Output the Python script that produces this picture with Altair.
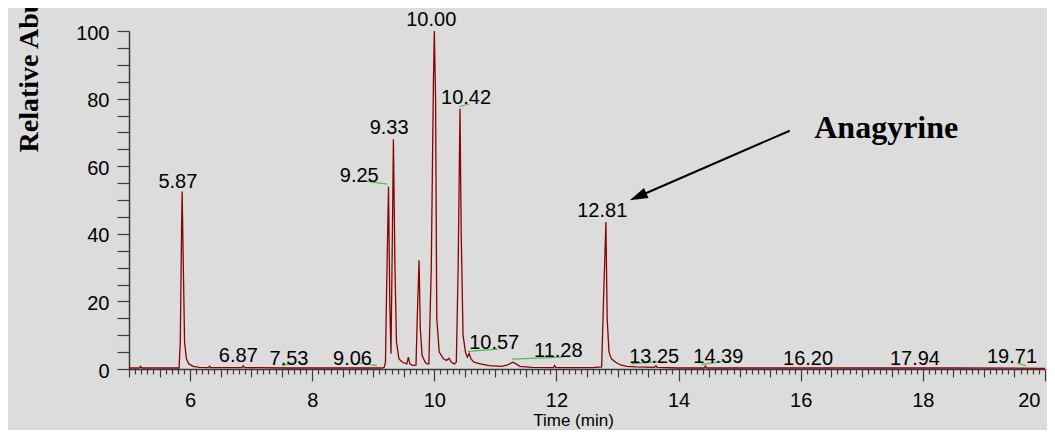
import altair as alt
import pandas as pd

# ---- chromatogram trace (time in min, relative abundance) ----
time = [5.00, 5.17, 5.19, 5.21, 5.82, 5.84, 5.86, 5.87, 5.89, 5.91, 5.94, 5.98, 6.05, 6.15,
        6.30, 6.32, 6.34, 6.85, 6.87, 6.89, 7.60, 8.40, 9.15, 9.18, 9.20, 9.22, 9.25, 9.27,
        9.29, 9.31, 9.33, 9.355, 9.38, 9.42, 9.48, 9.55, 9.575, 9.60, 9.65, 9.70, 9.72, 9.75,
        9.77, 9.80, 9.85, 9.88, 9.91, 9.95, 9.985, 10.00, 10.02, 10.04, 10.08, 10.15, 10.20,
        10.24, 10.28, 10.33, 10.36, 10.39, 10.42, 10.44, 10.47, 10.51, 10.54, 10.57, 10.60,
        10.65, 10.75, 10.90, 11.10, 11.20, 11.28, 11.34, 11.40, 11.60, 11.95, 11.97, 11.99,
        12.60, 12.74, 12.77, 12.81, 12.83, 12.86, 12.90, 12.97, 13.05, 13.15, 13.30, 13.60,
        13.63, 13.65, 14.00, 14.42, 14.44, 14.46, 15.50, 17.00, 18.50, 20.00]
abundance = [0.3, 0.3, 0.8, 0.3, 0.3, 8.0, 40.0, 52.5, 30.0, 8.0, 3.0, 1.5, 0.8, 0.5,
             0.4, 0.8, 0.4, 0.4, 0.9, 0.4, 0.3, 0.3, 0.3, 0.5, 2.0, 25.0, 54.0, 20.0,
             4.5, 35.0, 68.0, 30.0, 8.0, 3.0, 2.0, 1.5, 3.5, 1.5, 1.0, 1.2, 15.0, 32.2,
             12.0, 4.0, 2.0, 1.5, 1.5, 30.0, 85.0, 100.0, 80.0, 15.0, 5.0, 3.0, 2.5,
             3.2, 2.0, 1.5, 2.0, 30.0, 77.0, 40.0, 10.0, 5.0, 3.5, 4.6, 3.0,
             2.0, 1.5, 1.0, 0.8, 1.2, 2.0, 1.5, 0.8, 0.5, 0.4, 1.0, 0.4,
             0.4, 0.6, 20.0, 43.5, 15.0, 5.0, 3.0, 2.0, 1.2, 0.8, 0.6, 0.5,
             0.9, 0.5, 0.3, 0.3, 0.9, 0.3, 0.3, 0.3, 0.3, 0.2]

# ---- peak labels ----
label_text = ["5.87", "6.87", "7.53", "9.06", "9.25", "9.33", "10.00", "10.42", "10.57",
              "11.28", "12.81", "13.25", "14.39", "16.20", "17.94", "19.71"]
label_t = [5.80, 6.79, 7.62, 8.66, 8.77, 9.26, 9.95, 10.52, 10.98,
           12.03, 12.75, 13.60, 14.65, 16.12, 17.87, 19.46]
label_v = [53.6, 1.95, 1.3, 1.3, 55.2, 69.6, 101.4, 78.4, 5.9,
           3.55, 45.1, 1.8, 1.8, 1.3, 1.3, 1.8]

# ---- green label leaders ----
lead_t1 = [7.51, 8.72, 8.82, 10.41, 10.55, 11.27, 13.23, 14.37, 19.54]
lead_v1 = [1.0, 2.0, 55.7, 77.6, 5.2, 2.9, 1.5, 1.3, 1.7]
lead_t2 = [7.68, 9.06, 9.23, 10.57, 11.04, 12.10, 13.66, 14.70, 19.69]
lead_v2 = [1.9, 1.0, 54.7, 78.4, 5.9, 3.5, 2.2, 2.2, 1.0]

# ---- annotation ----
note_text = ["Anagyrine"]
note_t = [17.40]
note_v = [68.3]
arrow_t1 = [15.82]
arrow_v1 = [70.5]
arrow_t2 = [13.35]
arrow_v2 = [51.1]

x_ticks = [round(5 + 0.1 * i, 1) for i in range(151)]
y_ticks = list(range(0, 101, 5))

BG = "#dcdcdc"
AXC = "#3a3a3a"

major = "abs(datum.value/2 - round(datum.value/2)) < 0.001"
medium = "abs(datum.value*2 - round(datum.value*2)) < 0.001"

x_axis = alt.Axis(
    values=x_ticks,
    labelExpr=f"({major}) ? format(datum.value, 'd') : ''",
    tickSize={"expr": f"({major}) ? 12 : (({medium}) ? 8 : 5)"},
    labelOverlap=False, labelFlush=True, labelFlushOffset=-5,
    labelFont="Liberation Sans", labelFontSize=20, labelColor="black",
    labelPadding=9,
    domainColor=AXC, tickColor=AXC, domainWidth=1.5, tickWidth=1.2,
    grid=False,
    title="Time (min)", titleFont="Liberation Sans", titleFontSize=17,
    titleFontWeight="normal", titleColor="black",
    titleX=444, titleY=56, titleAlign="center", titleBaseline="alphabetic",
)
y_axis = alt.Axis(
    values=y_ticks,
    labelExpr="datum.value % 20 === 0 ? datum.label : ''",
    tickSize=12, labelPadding=8, labelOffset=2,
    labelOverlap=False, labelFlush=False,
    labelFont="Liberation Sans", labelFontSize=20, labelColor="black",
    domainColor=AXC, tickColor=AXC, domainWidth=1.5, tickWidth=1.2,
    grid=False,
    title="Relative Abundance", titleFont="Liberation Serif", titleFontSize=28,
    titleFontWeight="bold", titleColor="black", titleAngle=270,
    titleAlign="left", titleBaseline="alphabetic", titleX=-92, titleY=121,
)

xs = alt.Scale(domain=[5, 20], nice=False, zero=False)
ys = alt.Scale(domain=[0, 100], nice=False)


def X(f):
    return alt.X(f, type="quantitative", scale=xs, axis=x_axis)


def Y(f):
    return alt.Y(f, type="quantitative", scale=ys, axis=y_axis)


trace_df = pd.DataFrame({"t": time, "v": abundance})
label_df = pd.DataFrame({"t": label_t, "v": label_v, "txt": label_text})
lead_df = pd.DataFrame({"t": lead_t1, "v": lead_v1, "t2": lead_t2, "v2": lead_v2})
note_df = pd.DataFrame({"t": note_t, "v": note_v, "txt": note_text})
arrow_df = pd.DataFrame({"t": arrow_t1, "v": arrow_v1, "t2": arrow_t2, "v2": arrow_v2})
head_df = pd.DataFrame({"t": arrow_t2, "v": arrow_v2})

trace = alt.Chart(trace_df).mark_line(color="#8b0000", strokeWidth=1.3).encode(
    x=X("t"), y=Y("v"))

leaders = alt.Chart(lead_df).mark_rule(color="#4cbb4c", strokeWidth=1.2).encode(
    x=X("t"), y=Y("v"), x2="t2", y2="v2")

labels = alt.Chart(label_df).mark_text(
    font="Liberation Sans", fontSize=20, color="black",
    align="center", baseline="alphabetic").encode(x=X("t"), y=Y("v"), text="txt")

arrow = alt.Chart(arrow_df).mark_rule(color="black", strokeWidth=2).encode(
    x=X("t"), y=Y("v"), x2="t2", y2="v2")

head = alt.Chart(head_df).mark_point(
    shape="M0,-1L0.55,0.8L-0.55,0.8Z", filled=True, color="black", opacity=1,
    size=400, angle=246.4).encode(x=X("t"), y=Y("v"))

note = alt.Chart(note_df).mark_text(
    font="Liberation Serif", fontSize=32, fontWeight="bold", color="black",
    align="center", baseline="alphabetic").encode(x=X("t"), y=Y("v"), text="txt")

chart = alt.layer(trace, leaders, labels, arrow, head, note).properties(
    width=916, height=338,
    autosize=alt.AutoSizeParams(type="none"),
    padding={"left": 121, "top": 23, "right": 2, "bottom": 61},
    background=BG,
).configure_view(strokeWidth=0, fill=BG)

chart.save("out.html", embed_options={"renderer": "svg", "actions": False})
